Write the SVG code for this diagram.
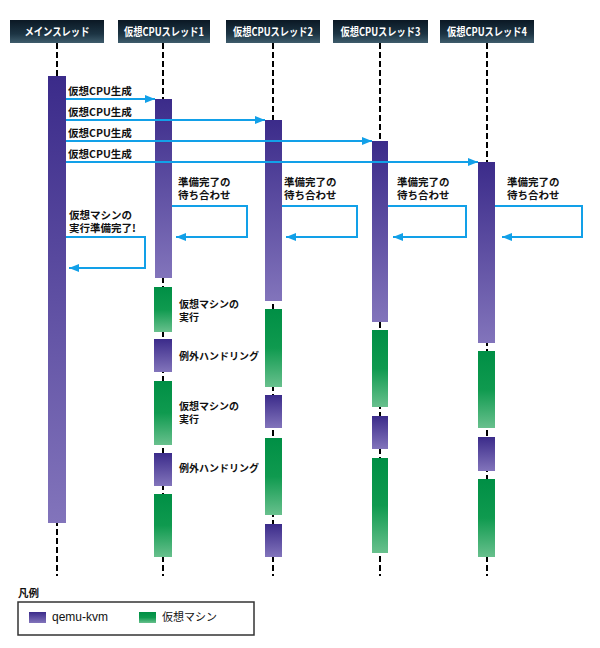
<svg xmlns="http://www.w3.org/2000/svg" width="600" height="648" viewBox="0 0 600 648">
<style>
text{font-family:"Noto Sans CJK JP","Liberation Sans",sans-serif;font-size:10.5px;font-weight:bold;fill:#111}
.hd text{fill:#fff;text-anchor:middle;font-size:11px}
.life{stroke:#000;stroke-width:2;stroke-dasharray:6,3;fill:none}
.q{fill:url(#gq)}
.v{fill:url(#gv)}
.arr{stroke:#12a0e8;stroke-width:2;fill:none;marker-end:url(#ah)}
.vm{font-size:10px}
.lg{font-weight:normal;font-size:11px}
</style>
<defs>
<linearGradient id="gh" x1="0" y1="0" x2="0" y2="1"><stop offset="0" stop-color="#0b1824"/><stop offset="0.6" stop-color="#1c3443"/><stop offset="1" stop-color="#3e5c6c"/></linearGradient>
<linearGradient id="gq" x1="0" y1="0" x2="0" y2="1"><stop offset="0" stop-color="#3b2b8a"/><stop offset="1" stop-color="#8274bb"/></linearGradient>
<linearGradient id="gv" x1="0" y1="0" x2="0" y2="1"><stop offset="0" stop-color="#008f45"/><stop offset="0.5" stop-color="#0f9a4f"/><stop offset="1" stop-color="#68c08d"/></linearGradient>
<marker id="ah" viewBox="0 0 10 8" refX="10" refY="4" markerWidth="10" markerHeight="8" markerUnits="userSpaceOnUse" orient="auto"><path d="M0,0 L10,4 L0,8 Z" fill="#12a0e8"/></marker>
</defs>

<g id="lifelines">
<line class="life" x1="57" y1="43" x2="57" y2="576"/>
<line class="life" x1="163" y1="43" x2="163" y2="576"/>
<line class="life" x1="273" y1="43" x2="273" y2="576"/>
<line class="life" x1="380" y1="43" x2="380" y2="576"/>
<line class="life" x1="487" y1="43" x2="487" y2="576"/>
</g>

<g id="headers" class="hd">
<g id="h-main"><rect x="10" y="20" width="94" height="23" fill="url(#gh)"/><text x="57" y="35.5" textLength="65" lengthAdjust="spacingAndGlyphs">メインスレッド</text></g>
<g id="h-cpu1"><rect x="118" y="20" width="92" height="23" fill="url(#gh)"/><text x="164" y="35.5" textLength="80" lengthAdjust="spacingAndGlyphs">仮想CPUスレッド1</text></g>
<g id="h-cpu2"><rect x="226" y="20" width="94" height="23" fill="url(#gh)"/><text x="273" y="35.5" textLength="80" lengthAdjust="spacingAndGlyphs">仮想CPUスレッド2</text></g>
<g id="h-cpu3"><rect x="333" y="20" width="95" height="23" fill="url(#gh)"/><text x="380.5" y="35.5" textLength="80" lengthAdjust="spacingAndGlyphs">仮想CPUスレッド3</text></g>
<g id="h-cpu4"><rect x="440" y="20" width="94" height="23" fill="url(#gh)"/><text x="487" y="35.5" textLength="80" lengthAdjust="spacingAndGlyphs">仮想CPUスレッド4</text></g>
</g>

<g id="main-thread">
<rect class="q" x="48" y="76" width="18" height="447"/>
</g>

<g id="cpu1">
<rect class="q" x="155" y="99" width="17" height="179"/>
<rect class="v" x="154" y="287" width="18" height="45"/>
<rect class="q" x="154" y="339" width="18" height="33"/>
<rect class="v" x="154" y="381" width="18" height="64"/>
<rect class="q" x="154" y="453" width="18" height="33"/>
<rect class="v" x="154" y="494" width="18" height="63"/>
</g>

<g id="cpu2">
<rect class="q" x="265" y="120" width="17" height="181"/>
<rect class="v" x="265" y="309" width="17" height="78"/>
<rect class="q" x="265" y="395" width="17" height="33"/>
<rect class="v" x="265" y="438" width="17" height="77"/>
<rect class="q" x="265" y="524" width="17" height="33"/>
</g>

<g id="cpu3">
<rect class="q" x="372" y="141" width="16" height="181"/>
<rect class="v" x="372" y="330" width="16" height="77"/>
<rect class="q" x="372" y="416" width="16" height="33"/>
<rect class="v" x="372" y="458" width="16" height="95"/>
</g>

<g id="cpu4">
<rect class="q" x="478" y="162" width="17" height="181"/>
<rect class="v" x="478" y="351" width="17" height="77"/>
<rect class="q" x="478" y="437" width="17" height="34"/>
<rect class="v" x="478" y="479" width="17" height="78"/>
</g>

<g id="connectors">
<line class="arr" x1="66" y1="99" x2="155" y2="99"/>
<line class="arr" x1="66" y1="120" x2="265" y2="120"/>
<line class="arr" x1="66" y1="141" x2="372" y2="141"/>
<line class="arr" x1="66" y1="162" x2="478" y2="162"/>
<path class="arr" d="M172,206 H247 V237 H176"/>
<path class="arr" d="M282,206 H357 V237 H286"/>
<path class="arr" d="M388,206 H466 V237 H393"/>
<path class="arr" d="M495,206 H582 V237 H502"/>
<path class="arr" d="M66,237 H145 V268 H69"/>
</g>

<g id="labels">
<text x="68" y="95">仮想CPU生成</text>
<text x="68" y="116">仮想CPU生成</text>
<text x="68" y="137">仮想CPU生成</text>
<text x="68" y="158">仮想CPU生成</text>
<text x="178" y="186">準備完了の<tspan x="178" dy="13">待ち合わせ</tspan></text>
<text x="284" y="186">準備完了の<tspan x="284" dy="13">待ち合わせ</tspan></text>
<text x="397" y="186">準備完了の<tspan x="397" dy="13">待ち合わせ</tspan></text>
<text x="507" y="186">準備完了の<tspan x="507" dy="13">待ち合わせ</tspan></text>
<text x="69" y="219">仮想マシンの<tspan x="69" dy="13">実行準備完了!</tspan></text>
<text class="vm" x="179" y="308">仮想マシンの<tspan x="179" dy="13">実行</tspan></text>
<text class="vm" x="179" y="360">例外ハンドリング</text>
<text class="vm" x="179" y="410">仮想マシンの<tspan x="179" dy="13">実行</tspan></text>
<text class="vm" x="179" y="472">例外ハンドリング</text>
</g>

<g id="legend">
<text x="18" y="597">凡例</text>
<rect x="18" y="602" width="236" height="33" fill="#fff" stroke="#333" stroke-width="1.5"/>
<rect class="q" x="29" y="612" width="17" height="11"/>
<text class="lg" x="52" y="621" style="font-family:'Liberation Sans',sans-serif;font-size:12px">qemu-kvm</text>
<rect class="v" x="139" y="612" width="17" height="11"/>
<text class="lg" x="162" y="621">仮想マシン</text>
</g>
</svg>
